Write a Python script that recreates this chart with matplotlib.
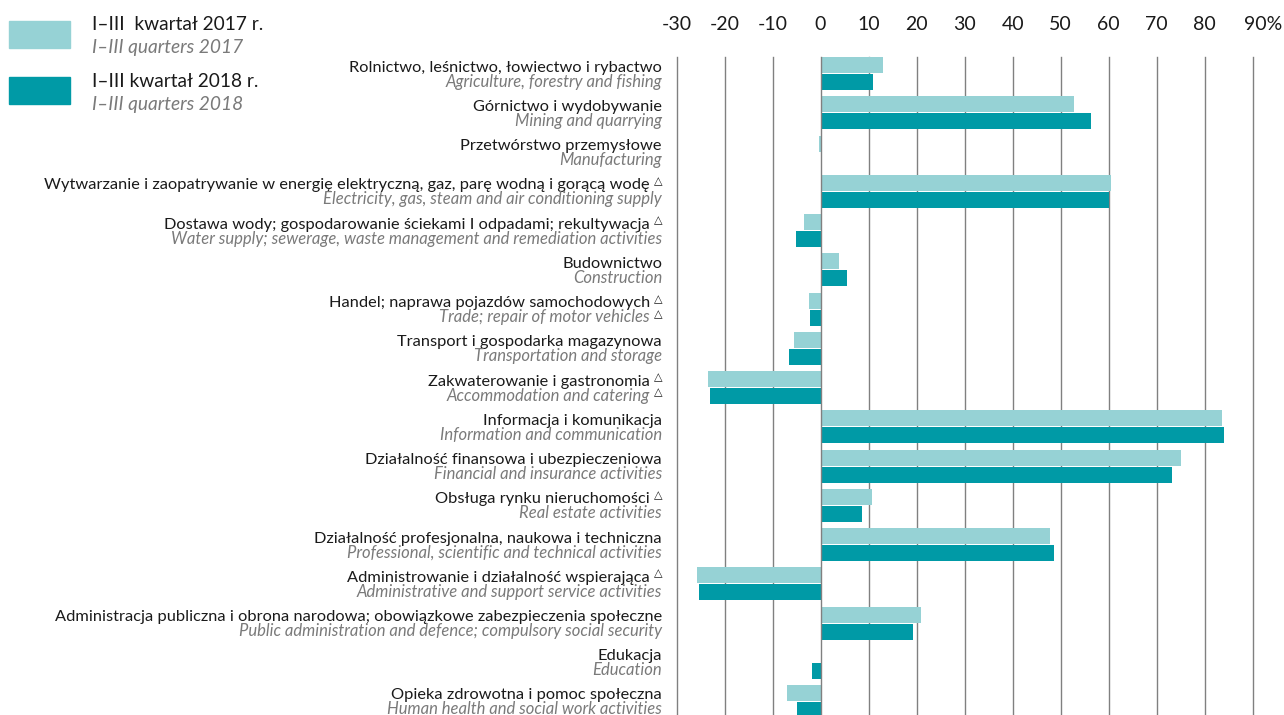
import numpy as np
import matplotlib
matplotlib.use("Agg")
import matplotlib.pyplot as plt
import matplotlib.transforms as mtransforms
from matplotlib.patches import Rectangle

# sections (Polish / English)
cats_pl = [
    "Rolnictwo, leśnictwo, łowiectwo i rybactwo",
    "Górnictwo i wydobywanie",
    "Przetwórstwo przemysłowe",
    "Wytwarzanie i zaopatrywanie w energię elektryczną, gaz, parę wodną i gorącą wodę",
    "Dostawa wody; gospodarowanie ściekami I odpadami; rekultywacja",
    "Budownictwo",
    "Handel; naprawa pojazdów samochodowych",
    "Transport i gospodarka magazynowa",
    "Zakwaterowanie i gastronomia",
    "Informacja i komunikacja",
    "Działalność finansowa i ubezpieczeniowa",
    "Obsługa rynku nieruchomości",
    "Działalność profesjonalna, naukowa i techniczna",
    "Administrowanie i działalność wspierająca",
    "Administracja publiczna i obrona narodowa; obowiązkowe zabezpieczenia społeczne",
    "Edukacja",
    "Opieka zdrowotna i pomoc społeczna",
]
cats_en = [
    "Agriculture, forestry and fishing",
    "Mining and quarrying",
    "Manufacturing",
    "Electricity, gas, steam and air conditioning supply",
    "Water supply; sewerage, waste management and remediation activities",
    "Construction",
    "Trade; repair of motor vehicles",
    "Transportation and storage",
    "Accommodation and catering",
    "Information and communication",
    "Financial and insurance activities",
    "Real estate activities",
    "Professional, scientific and technical activities",
    "Administrative and support service activities",
    "Public administration and defence; compulsory social security",
    "Education",
    "Human health and social work activities",
]
tri_pl = [0, 0, 0, 1, 1, 0, 1, 0, 1, 0, 0, 1, 0, 1, 0, 0, 0]
tri_en = [0, 0, 0, 0, 0, 0, 1, 0, 1, 0, 0, 0, 0, 0, 0, 0, 0]

v2017 = [13.1, 52.7, -0.3, 60.5, -3.5, 3.8, -2.4, -5.6, -23.5, 83.6, 75.1, 10.7, 47.7, -25.8, 20.9, 0.0, -7.0]
v2018 = [10.9, 56.3, 0.2, 60.0, -5.1, 5.5, -2.2, -6.6, -23.1, 84.0, 73.2, 8.6, 48.6, -25.4, 19.2, -1.8, -4.9]

xticks = [-30, -20, -10, 0, 10, 20, 30, 40, 50, 60, 70, 80, 90]
xlabels = ["-30", "-20", "-10", "0", "10", "20", "30", "40", "50", "60", "70", "80", "90%"]

light = "#96d2d5"
dark = "#009aa6"
grid_c = "#808080"
txt_c = "#1a1a1a"
en_c = "#7a7a7a"

FONT = ["Lato", "DejaVu Sans"]
plt.rcParams["font.family"] = FONT

W, H = 1284, 715
fig = plt.figure(figsize=(W / 100, H / 100), dpi=100)

# axes in pixel terms
left, right, top, bottom = 676.5, 1252.7, 57, 715
ax = fig.add_axes([left / W, 1 - bottom / H, (right - left) / W, (bottom - top) / H])

step = 39.25  # px per category
n = len(cats_pl)
ypos = np.arange(n)
bh = 16 / step

ax.barh(ypos + 8 / step, v2017, height=bh, color=light, zorder=3)
ax.barh(ypos + 25 / step, v2018, height=bh, color=dark, zorder=3)

ax.set_xlim(-30, 90)
ax.set_ylim((bottom - top) / step, 0)
ax.set_yticks([])
for s in ax.spines.values():
    s.set_visible(False)

ax.xaxis.tick_top()
ax.set_xticks(xticks, xlabels)
ax.tick_params(axis="x", length=0, pad=17, labelsize=14, labelcolor=txt_c)
for x in xticks:
    ax.axvline(x, color=grid_c, lw=1.0, zorder=2 if x != 0 else 4, clip_on=False)

# shift "90%" so the number sits on its gridline
lab = ax.get_xticklabels()[-1]
lab.set_transform(lab.get_transform() + mtransforms.ScaledTranslation(0.10, 0, fig.dpi_scale_trans))

# category labels
trans = mtransforms.blended_transform_factory(fig.transFigure, ax.transData)
xr = 662 / W
tri_w = 12 / W
for i in range(n):
    yp = i + 14.5 / step
    ye = i + 29.5 / step
    xp = xr - tri_w if tri_pl[i] else xr
    xe = xr - tri_w if tri_en[i] else xr
    ax.text(xp, yp, cats_pl[i], transform=trans, ha="right", va="baseline",
            fontsize=11.8, color=txt_c)
    ax.text(xe, ye, cats_en[i], transform=trans, ha="right", va="baseline",
            fontsize=12.0, color=en_c, style="italic")
    if tri_pl[i]:
        ax.text(xr, yp - 5 / step, "△", transform=trans, ha="right", va="baseline",
                fontsize=8, color=txt_c, family="DejaVu Sans")
    if tri_en[i]:
        ax.text(xr, ye - 5 / step, "△", transform=trans, ha="right", va="baseline",
                fontsize=8, color=txt_c, family="DejaVu Sans")

# legend
def px(x, y):
    return x / W, 1 - y / H

for (y0, col, l1, l2, b1, b2) in [
    (21, light, "I–III  kwartał 2017 r.", "I–III quarters 2017", 29.5, 53),
    (77, dark, "I–III kwartał 2018 r.", "I–III quarters 2018", 87, 110),
]:
    fig.patches.append(Rectangle(px(9, y0 + 27), 61 / W, 27 / H, transform=fig.transFigure,
                                 color=col, zorder=1))
    fig.text(*px(92, b1), l1, fontsize=13.8, color=txt_c, va="baseline")
    fig.text(*px(92, b2), l2, fontsize=13.8, color=en_c, va="baseline", style="italic")

fig.savefig("out.png", dpi=100)
